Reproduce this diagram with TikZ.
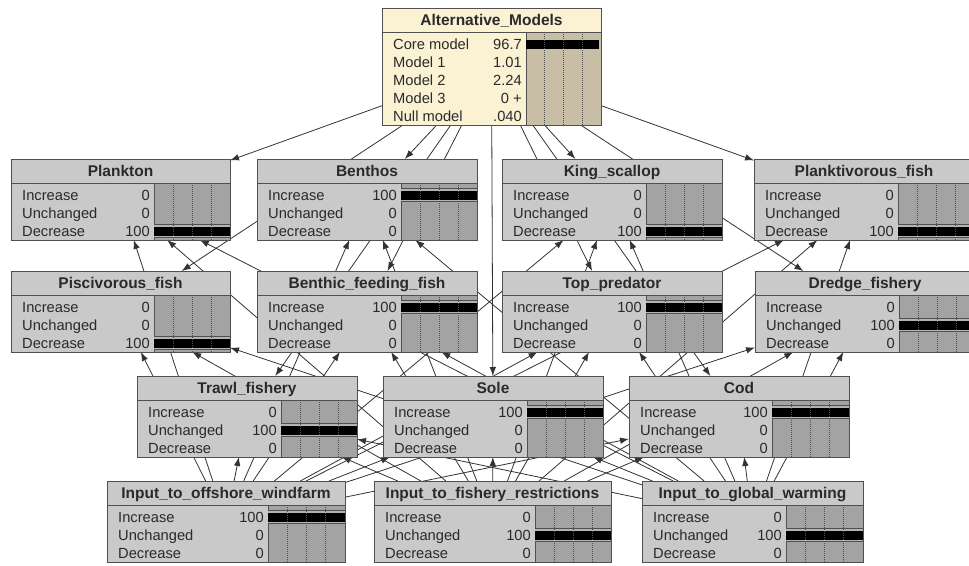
\documentclass[tikz,border=0pt]{standalone}
\usepackage{fontspec}
\setmainfont{Liberation Sans}
\usetikzlibrary{arrows.meta}
\pgfdeclarelayer{bg}
\pgfsetlayers{bg,main}
\definecolor{nodegray}{HTML}{C9C9C9}
\definecolor{bargray}{HTML}{A3A3A3}
\definecolor{bandgray}{HTML}{B4B4B4}
\definecolor{cream}{HTML}{FBF1D3}
\definecolor{altbar}{HTML}{C8BEA5}
\definecolor{framec}{HTML}{505050}
\definecolor{textc}{HTML}{2A2A2A}
\definecolor{edgec}{HTML}{333333}
\tikzset{
  bnframe/.style={draw=framec, line width=1pt, inner sep=0pt, outer sep=0pt, rectangle},
  bnline/.style={draw=framec, line width=0.8pt},
  bntitle/.style={font=\fontsize{15.5}{16}\selectfont\bfseries, text=textc, inner sep=0pt},
  bnstate/.style={font=\fontsize{14.7}{15}\selectfont, text=textc, inner sep=0pt},
  link/.style={draw=edgec, line width=0.8pt, -{Latex[length=9pt,width=6.5pt]}},
}
% #1 name #2 x #3 y #4 w #5 label width #6 rows #7 title #8 fill #9 bar fill
\newcommand{\bnbox}[9]{%
  \pgfmathsetmacro{\bnh}{27+#6*18}%
  \node[bnframe, fill=#8, minimum width=#4pt, minimum height=\bnh pt, anchor=north west] (#1) at (#2,#3) {};
  \fill[#9] (#2+#5,#3+24) rectangle (#2+#4,#3+\bnh);
  \draw[bnline] (#2,#3+24) -- (#2+#4,#3+24);
  \draw[bnline] (#2+#5,#3+24) -- (#2+#5,#3+\bnh);
  \node[bntitle, anchor=base] (#1-title) at (#2+#4/2,#3+17.5) {#7};
  \xdef\bnx{#2}\xdef\bny{#3}\xdef\bnw{#4}\xdef\bnlw{#5}\xdef\bnhh{\bnh}\xdef\bnname{#1}%
}
% #1 index #2 label #3 value #4 percent
\newcommand{\bnrow}[4]{%
  \pgfmathsetmacro{\cy}{\bny+27+(#1-0.5)*18}%
  \node[bnstate, anchor=base west] (\bnname-l#1) at (\bnx+11,\cy+5.2) {#2};
  \node[bnstate, anchor=base east] (\bnname-v#1) at (\bnx+\bnlw-4,\cy+5.2) {#3};
  \ifdim #4pt>99pt
    \fill[bandgray] (\bnx+\bnlw,\cy-6.5) rectangle (\bnx+\bnw,\cy+6.5);
    \draw[line width=0.6pt, framec] (\bnx+\bnlw,\cy-6.5) -- (\bnx+\bnw,\cy-6.5)
      (\bnx+\bnlw,\cy+6.5) -- (\bnx+\bnw,\cy+6.5);
  \fi
  \ifdim #4pt>5pt
    \fill[black] (\bnx+\bnlw,\cy-4.5) rectangle (\bnx+\bnlw+#4/100*\bnw-#4/100*\bnlw,\cy+4.5);
  \fi
}
\newcommand{\bnend}{%
  \foreach \q in {0.25,0.5,0.75}{%
    \draw[framec, line width=0.6pt, dash pattern=on 1pt off 1pt]
      (\bnx+\bnlw+\q*\bnw-\q*\bnlw,\bny+24) -- (\bnx+\bnlw+\q*\bnw-\q*\bnlw,\bny+\bnhh);}
  \draw[bnline, line width=1pt] (\bnname.north west) rectangle (\bnname.south east);
}
\newcommand{\bnthree}[3]{%
  \bnrow{1}{Increase}{#1}{#1}%
  \bnrow{2}{Unchanged}{#2}{#2}%
  \bnrow{3}{Decrease}{#3}{#3}%
  \bnend
}
\begin{document}
\begin{tikzpicture}[x=1pt,y=-1pt]
\useasboundingbox (0,0) rectangle (969,565);
\clip (0,0) rectangle (969,565);

\bnbox{alt}{382}{8}{219}{144}{5}{Alternative\_Models}{cream}{altbar}
\bnrow{1}{Core model}{96.7}{96.7}
\bnrow{2}{Model 1}{1.01}{1.01}
\bnrow{3}{Model 2}{2.24}{2.24}
\bnrow{4}{Model 3}{0 +}{0}
\bnrow{5}{Null model}{.040}{0.04}
\bnend

\bnbox{plankton}{11}{159}{219}{143}{3}{Plankton}{nodegray}{bargray}
\bnthree{0}{0}{100}
\bnbox{benthos}{257}{159}{220}{144}{3}{Benthos}{nodegray}{bargray}
\bnthree{100}{0}{0}
\bnbox{king}{502}{159}{220}{144}{3}{King\_scallop}{nodegray}{bargray}
\bnthree{0}{0}{100}
\bnbox{plankt}{754}{159}{220}{144}{3}{Planktivorous\_fish}{nodegray}{bargray}
\bnthree{0}{0}{100}

\bnbox{pisc}{11}{271}{219}{143}{3}{Piscivorous\_fish}{nodegray}{bargray}
\bnthree{0}{0}{100}
\bnbox{bff}{257}{271}{220}{144}{3}{Benthic\_feeding\_fish}{nodegray}{bargray}
\bnthree{100}{0}{0}
\bnbox{top}{502}{271}{220}{144}{3}{Top\_predator}{nodegray}{bargray}
\bnthree{100}{0}{0}
\bnbox{dredge}{755}{271}{220}{144}{3}{Dredge\_fishery}{nodegray}{bargray}
\bnthree{0}{100}{0}

\bnbox{trawl}{137}{376}{220}{144}{3}{Trawl\_fishery}{nodegray}{bargray}
\bnthree{0}{100}{0}
\bnbox{sole}{383}{376}{220}{144}{3}{Sole}{nodegray}{bargray}
\bnthree{100}{0}{0}
\bnbox{cod}{629}{376}{220}{143}{3}{Cod}{nodegray}{bargray}
\bnthree{100}{0}{0}

\bnbox{wind}{107}{481}{238}{161}{3}{Input\_to\_offshore\_windfarm}{nodegray}{bargray}
\bnthree{100}{0}{0}
\bnbox{fish}{374}{481}{237}{161}{3}{Input\_to\_fishery\_restrictions}{nodegray}{bargray}
\bnthree{0}{100}{0}
\bnbox{gw}{642}{481}{221}{144}{3}{Input\_to\_global\_warming}{nodegray}{bargray}
\bnthree{0}{100}{0}

\begin{pgfonlayer}{bg}
\fill[white] (0,0) rectangle (969,565);
\foreach \s in {alt,wind,fish,gw}{
  \foreach \t in {plankton,benthos,king,plankt,pisc,bff,top,dredge,trawl,sole,cod}{
    \draw[link] (\s) -- (\t);
  }
}
\end{pgfonlayer}
\end{tikzpicture}
\end{document}
